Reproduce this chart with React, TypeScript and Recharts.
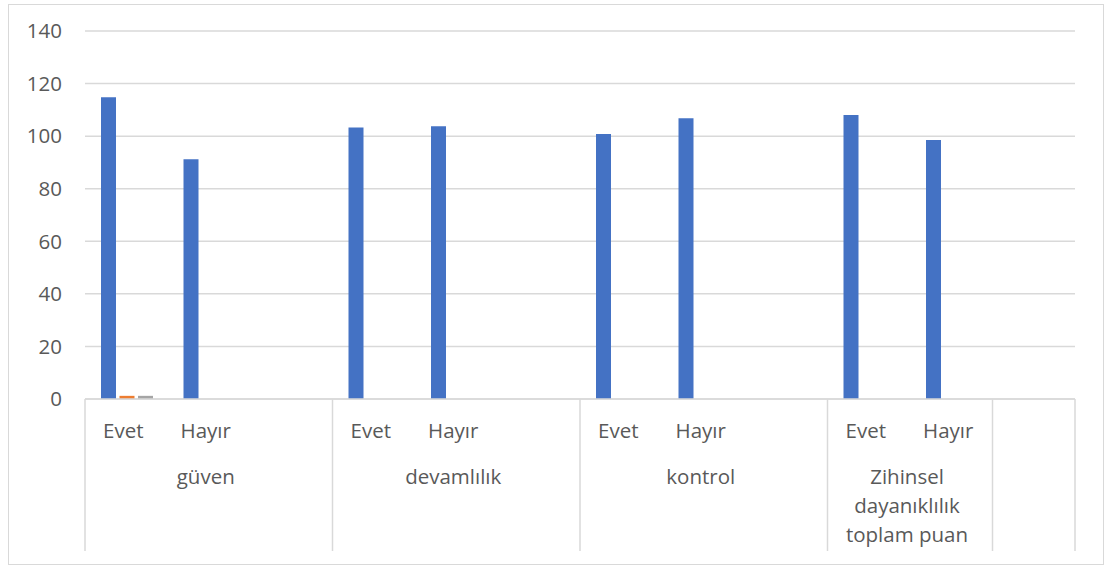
import React from "react";
import { BarChart, Bar, XAxis, YAxis, CartesianGrid } from "recharts";

// inner category labels, one per slot on the category axis
const answers = ["Evet", "Hayır", "", "Evet", "Hayır", "", "Evet", "Hayır", "", "Evet", "Hayır", ""];
// which outer group each slot belongs to
const groupIndex = [0, 0, 0, 1, 1, 1, 2, 2, 2, 3, 3, 4];
const groupNames = ["güven", "devamlılık", "kontrol", "Zihinsel\ndayanıklılık\ntoplam puan", ""];

const series1 = [114.8, 91.2, null, 103.3, 103.8, null, 100.8, 106.8, null, 108.0, 98.5, null];
const series2 = [1.2, null, null, null, null, null, null, null, null, null, null, null];
const series3 = [1.2, null, null, null, null, null, null, null, null, null, null, null];

const yTicks = [0, 20, 40, 60, 80, 100, 120, 140];

const data = answers.map((answer, i) => ({
  slot: `s${i}`,
  answer,
  group: groupIndex[i],
  s1: series1[i],
  s2: series2[i],
  s3: series3[i],
}));

const FONT = "'Open Sans', sans-serif";
const FONT_SIZE = 20.5;
const TEXT = "#595959";
const LINE = "#d9d9d9";

const CategoryTick = (props: any) => {
  const { x, y, payload } = props;
  const i = payload.index;
  const half = payload.offset || 41.25;
  const band = half * 2;
  const row = data[i];
  const first = i === 0 || data[i - 1].group !== row.group;
  const last = i === data.length - 1;

  let groupLabel = null;
  if (first) {
    let count = 0;
    for (let j = i; j < data.length && data[j].group === row.group; j++) count++;
    const cx = x - half + (count * band) / 2 - 3;
    const lines = groupNames[row.group].split("\n");
    groupLabel = (
      <text x={cx} y={y + 77} textAnchor="middle" fill={TEXT} fontSize={FONT_SIZE} fontFamily={FONT} dominantBaseline="central">
        {lines.map((ln, k) => (
          <tspan key={k} x={cx} dy={k === 0 ? 0 : 29}>
            {ln}
          </tspan>
        ))}
      </text>
    );
  }

  return (
    <g>
      {first && <line x1={x - half} x2={x - half} y1={y} y2={y + 152} stroke={LINE} strokeWidth={1.5} />}
      {last && <line x1={x + half} x2={x + half} y1={y} y2={y + 152} stroke={LINE} strokeWidth={1.5} />}
      <text x={x - 3} y={y + 31} textAnchor="middle" fill={TEXT} fontSize={FONT_SIZE} fontFamily={FONT} dominantBaseline="central">
        {row.answer}
      </text>
      {groupLabel}
    </g>
  );
};

export default function App() {
  return (
    <div style={{ position: "absolute", left: 0, top: 0, width: 1105, height: 566, background: "#fff" }}>
      <div
        style={{
          position: "absolute",
          left: 8,
          top: 4,
          width: 1096,
          height: 561,
          border: `1px solid ${LINE}`,
          boxSizing: "border-box",
        }}
      />
      <div style={{ position: "absolute", left: 0, top: 0 }}>
        <BarChart
          width={1105}
          height={566}
          data={data}
          margin={{ top: 31, right: 30, left: 0, bottom: 0 }}
          barCategoryGap={16}
          barGap={3.5}
        >
          <CartesianGrid vertical={false} stroke={LINE} strokeWidth={1.5} />
          <XAxis
            dataKey="slot"
            interval={0}
            height={167}
            tickLine={false}
            tickSize={0}
            tickMargin={0}
            axisLine={{ stroke: LINE, strokeWidth: 1.5 }}
            tick={<CategoryTick />}
          />
          <YAxis
            width={85}
            domain={[0, 140]}
            ticks={yTicks}
            interval={0}
            axisLine={false}
            tickLine={false}
            tickSize={0}
            tickMargin={23}
            tick={{ fill: TEXT, fontSize: FONT_SIZE, fontFamily: FONT }}
          />
          <Bar dataKey="s1" fill="#4472C4" isAnimationActive={false} />
          <Bar dataKey="s2" fill="#ED7D31" isAnimationActive={false} />
          <Bar dataKey="s3" fill="#A5A5A5" isAnimationActive={false} />
        </BarChart>
      </div>
    </div>
  );
}
